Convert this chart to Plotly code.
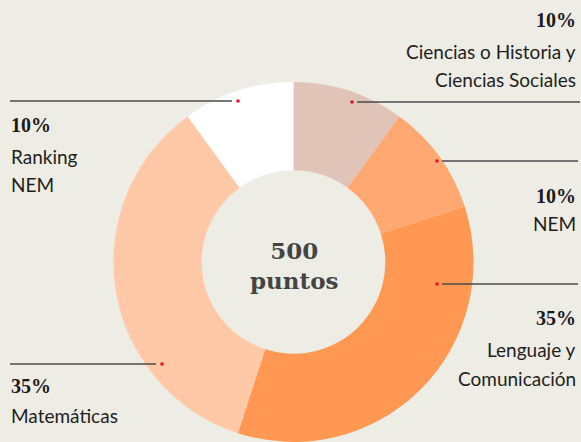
import plotly.graph_objects as go

# Data
categories = ["Ciencias o Historia y Ciencias Sociales", "NEM", "Lenguaje y Comunicación", "Matemáticas", "Ranking NEM"]
values = [10, 10, 35, 35, 10]
pct_labels = ["10%", "10%", "35%", "35%", "10%"]
label_lines = [["Ciencias o Historia y", "Ciencias Sociales"], ["NEM"], ["Lenguaje y", "Comunicación"], ["Matemáticas"], ["Ranking", "NEM"]]
colors = ["#e0c4b8", "#ffa872", "#ff9852", "#ffc8a6", "#ffffff"]
center_text = "500<br>puntos"

W, H = 581, 442
BG = "#eeede5"

# Layout constants (pixel space: x right, y down)
cx, cy, R = 293.5, 262, 180
callouts = [
    dict(dot=(352, 102), line=(357, 580), tx=578, align="right", ys=[20, 51, 79]),
    dict(dot=(437, 161), line=(442, 578), tx=578, align="right", ys=[196, 223]),
    dict(dot=(437, 284), line=(442, 578), tx=578, align="right", ys=[318, 349, 378]),
    dict(dot=(162, 364), line=(10, 156), tx=9, align="left", ys=[386, 415]),
    dict(dot=(238, 101), line=(10, 232), tx=9, align="left", ys=[125, 156, 184]),
]

fig = go.Figure()
fig.add_trace(go.Pie(
    labels=categories, values=values,
    marker=dict(colors=colors, line=dict(width=0)),
    hole=0.51, sort=False, direction="clockwise", rotation=0,
    textinfo="none", hoverinfo="label+percent", showlegend=False,
    domain=dict(x=[(cx - R) / W, (cx + R) / W], y=[(H - cy - R) / H, (H - cy + R) / H]),
))

for i, c in enumerate(callouts):
    y_line = c["dot"][1]
    fig.add_shape(type="line", xref="x", yref="y", x0=c["line"][0], x1=c["line"][1],
                  y0=y_line, y1=y_line, line=dict(color="#4a4a48", width=1.5), layer="above")
    dx, dy = c["dot"]
    fig.add_shape(type="circle", xref="x", yref="y", x0=dx - 1.8, x1=dx + 1.8, y0=dy - 1.8, y1=dy + 1.8,
                  fillcolor="#e8102a", line=dict(width=0), layer="above")
    xanchor = "right" if c["align"] == "right" else "left"
    fig.add_annotation(x=c["tx"], y=c["ys"][0], text="<b>" + pct_labels[i] + "</b>", showarrow=False,
                       xanchor=xanchor, yanchor="middle",
                       font=dict(family="Liberation Serif", size=20, color="#1a1a1a"))
    for j, line in enumerate(label_lines[i]):
        fig.add_annotation(x=c["tx"], y=c["ys"][j + 1], text=line, showarrow=False,
                           xanchor=xanchor, yanchor="middle",
                           font=dict(family="Lato", size=19, color="#1e1e1e"))

fig.add_annotation(x=cx, y=cy + 3, text="<b>" + center_text + "</b>", showarrow=False,
                   xanchor="center", yanchor="middle",
                   font=dict(family="DejaVu Serif", size=23, color="#444444"))

fig.update_layout(
    width=W, height=H, margin=dict(l=0, r=0, t=0, b=0),
    paper_bgcolor=BG, plot_bgcolor="rgba(0,0,0,0)",
    xaxis=dict(range=[0, W], visible=False, fixedrange=True),
    yaxis=dict(range=[H, 0], visible=False, fixedrange=True),
)

fig.write_html("out.html", config={"displayModeBar": False},
               post_script="document.body.style.margin='0';document.body.style.overflow='hidden';")
